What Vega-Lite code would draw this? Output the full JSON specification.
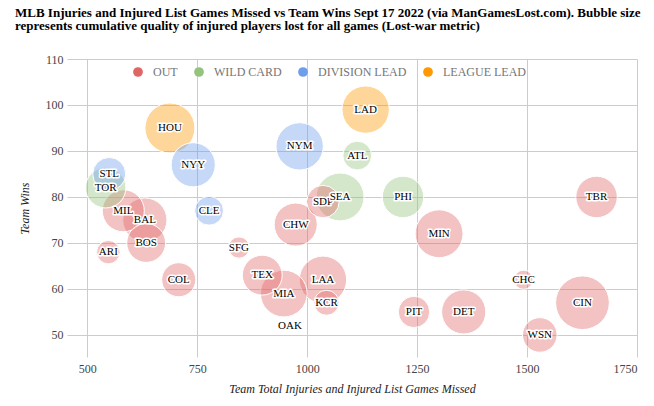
{
  "$schema": "https://vega.github.io/schema/vega-lite/v6.json",
  "width": 570,
  "height": 298,
  "autosize": {"type": "none"},
  "padding": {"left": 67, "top": 59, "right": 17, "bottom": 49},
  "background": "white",
  "title": {
    "text": ["MLB Injuries and Injured List Games Missed vs Team Wins Sept 17 2022 (via ManGamesLost.com). Bubble size", "represents cumulative quality of injured players lost for all games (Lost-war metric)"],
    "anchor": "start",
    "frame": "group",
    "dx": -52,
    "offset": 20,
    "font": "Liberation Serif",
    "fontSize": 13,
    "fontWeight": "bold",
    "color": "#000000",
    "lineHeight": 13
  },
  "config": {
    "view": {"stroke": null},
    "axis": {
      "gridColor": "#cccccc",
      "gridOpacity": 1,
      "domain": false,
      "ticks": false,
      "labelFont": "Liberation Serif",
      "labelFontSize": 12,
      "labelColor": "#444444",
      "titleFont": "Liberation Serif",
      "titleFontSize": 12,
      "titleFontStyle": "italic",
      "titleFontWeight": "normal",
      "titleColor": "#222222"
    }
  },
  "data": {
    "values": [
      {"team": "CIN", "missed": 1626, "wins": 57, "lostWAR": 10.1, "status": "OUT"},
      {"team": "HOU", "missed": 688, "wins": 95, "lostWAR": 9.4, "status": "LEAGUE LEAD"},
      {"team": "SEA", "missed": 1075, "wins": 80, "lostWAR": 9.0, "status": "WILD CARD"},
      {"team": "MIN", "missed": 1300, "wins": 72, "lostWAR": 9.0, "status": "OUT"},
      {"team": "NYM", "missed": 983, "wins": 91, "lostWAR": 8.9, "status": "DIVISION LEAD"},
      {"team": "LAA", "missed": 1036, "wins": 62, "lostWAR": 8.9, "status": "OUT"},
      {"team": "LAD", "missed": 1133, "wins": 99, "lostWAR": 8.9, "status": "LEAGUE LEAD"},
      {"team": "MIA", "missed": 947, "wins": 59, "lostWAR": 8.8, "status": "OUT"},
      {"team": "NYY", "missed": 741, "wins": 87, "lostWAR": 8.3, "status": "DIVISION LEAD"},
      {"team": "BAL", "missed": 631, "wins": 75, "lostWAR": 8.3, "status": "OUT"},
      {"team": "DET", "missed": 1356, "wins": 55, "lostWAR": 8.3, "status": "OUT"},
      {"team": "CHW", "missed": 974, "wins": 74, "lostWAR": 8.1, "status": "OUT"},
      {"team": "MIL", "missed": 582, "wins": 77, "lostWAR": 7.9, "status": "OUT"},
      {"team": "PHI", "missed": 1218, "wins": 80, "lostWAR": 7.8, "status": "WILD CARD"},
      {"team": "TBR", "missed": 1658, "wins": 80, "lostWAR": 7.8, "status": "OUT"},
      {"team": "TOR", "missed": 542, "wins": 82, "lostWAR": 7.6, "status": "WILD CARD"},
      {"team": "TEX", "missed": 898, "wins": 63, "lostWAR": 7.5, "status": "OUT"},
      {"team": "BOS", "missed": 634, "wins": 70, "lostWAR": 7.3, "status": "OUT"},
      {"team": "WSN", "missed": 1529, "wins": 50, "lostWAR": 6.5, "status": "OUT"},
      {"team": "COL", "missed": 708, "wins": 62, "lostWAR": 6.4, "status": "OUT"},
      {"team": "STL", "missed": 550, "wins": 85, "lostWAR": 6.2, "status": "DIVISION LEAD"},
      {"team": "SDP", "missed": 1036, "wins": 79, "lostWAR": 6.1, "status": "OUT"},
      {"team": "PIT", "missed": 1243, "wins": 55, "lostWAR": 5.9, "status": "OUT"},
      {"team": "CLE", "missed": 777, "wins": 77, "lostWAR": 5.4, "status": "DIVISION LEAD"},
      {"team": "ATL", "missed": 1114, "wins": 89, "lostWAR": 5.4, "status": "WILD CARD"},
      {"team": "KCR", "missed": 1044, "wins": 57, "lostWAR": 4.7, "status": "OUT"},
      {"team": "ARI", "missed": 548, "wins": 68, "lostWAR": 4.4, "status": "OUT"},
      {"team": "SFG", "missed": 845, "wins": 69, "lostWAR": 4.0, "status": "OUT"},
      {"team": "CHC", "missed": 1492, "wins": 62, "lostWAR": 3.6, "status": "OUT"},
      {"team": "OAK", "missed": 961, "wins": 52, "lostWAR": 0, "status": "OUT"}
    ]
  },
  "encoding": {
    "x": {
      "field": "missed",
      "type": "quantitative",
      "scale": {"domain": [454, 1750], "nice": false, "zero": false},
      "axis": {"values": [500, 750, 1000, 1250, 1500, 1750], "format": "d", "labelPadding": 6, "title": "Team Total Injuries and Injured List Games Missed", "titlePadding": 9}
    },
    "y": {
      "field": "wins",
      "type": "quantitative",
      "scale": {"domain": [45.2, 110], "nice": false, "zero": false},
      "axis": {"values": [50, 60, 70, 80, 90, 100, 110], "format": "d", "labelPadding": 4, "title": "Team Wins", "titlePadding": 14}
    }
  },
  "layer": [
    {
      "mark": {"type": "point", "shape": "circle", "filled": true, "fillOpacity": 0.4, "stroke": "white", "strokeWidth": 1, "strokeOpacity": 1},
      "encoding": {
        "size": {
          "field": "lostWAR",
          "type": "quantitative",
          "scale": {"type": "pow", "exponent": 2, "domain": [0, 10], "range": [0, 2827]},
          "legend": null
        },
        "color": {
          "field": "status",
          "type": "nominal",
          "scale": {"domain": ["OUT", "WILD CARD", "DIVISION LEAD", "LEAGUE LEAD"], "range": ["#e06666", "#93c47d", "#6d9eeb", "#ff9900"]},
          "legend": {
            "title": null,
            "orient": "none",
            "legendX": 65,
            "legendY": 7,
            "direction": "horizontal",
            "symbolType": "circle",
            "symbolSize": 95,
            "symbolOpacity": 1,
            "symbolStrokeWidth": 0,
            "labelFont": "Liberation Serif",
            "labelFontSize": 12,
            "labelColor": "#757575",
            "labelOffset": 9,
            "columnPadding": 15
          }
        }
      }
    },
    {
      "transform": [{"filter": "datum.team !== 'SEA'"}],
      "mark": {"type": "text", "font": "Liberation Serif", "fontSize": 11, "align": "center", "baseline": "middle", "stroke": "white", "strokeWidth": 3, "strokeJoin": "round", "fill": "white"},
      "encoding": {"text": {"field": "team"}}
    },
    {
      "transform": [{"filter": "datum.team !== 'SEA'"}],
      "mark": {"type": "text", "font": "Liberation Serif", "fontSize": 11, "align": "center", "baseline": "middle", "fill": "#000000"},
      "encoding": {"text": {"field": "team"}}
    },
    {
      "transform": [{"filter": "datum.team === 'SEA'"}],
      "mark": {"type": "text", "font": "Liberation Serif", "fontSize": 11, "align": "center", "baseline": "middle", "stroke": "white", "strokeWidth": 3, "strokeJoin": "round", "fill": "white"},
      "encoding": {"text": {"field": "team"}}
    },
    {
      "transform": [{"filter": "datum.team === 'SEA'"}],
      "mark": {"type": "text", "font": "Liberation Serif", "fontSize": 11, "align": "center", "baseline": "middle", "fill": "#000000"},
      "encoding": {"text": {"field": "team"}}
    }
  ]
}
